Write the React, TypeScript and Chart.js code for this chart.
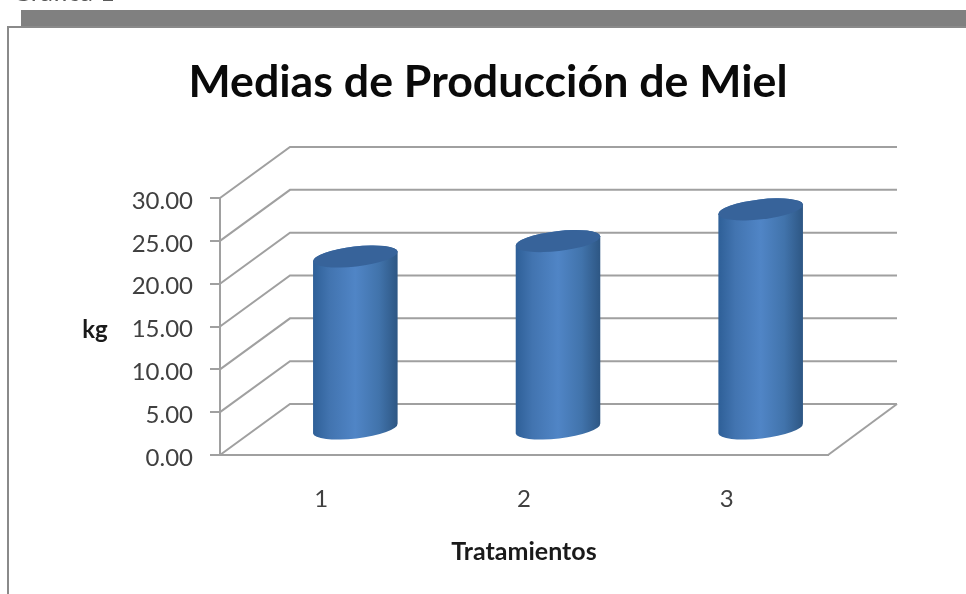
import React, { useEffect, useRef } from "react";
import { Chart, registerables } from "chart.js";

Chart.register(...registerables);

const categories = ["1", "2", "3"];
const values = [20.2, 22.0, 25.7];
const chartTitle = "Medias de Producción de Miel";
const xTitle = "Tratamientos";
const yTitle = "kg";
const cutOffCaption = "Gráfica 1";

const FONT = "Lato, Carlito, sans-serif";
const GRID = "#a0a0a0";
const DEPTH_X = 70;
const DEPTH_Y = -51;

const depthPlugin = {
  id: "depthPlugin",
  beforeDraw(chart: any) {
    const c = chart.ctx;
    c.save();
    c.fillStyle = "#ffffff";
    c.fillRect(0, 0, chart.width, chart.height);
    c.fillStyle = "#5a5a5a";
    c.font = `26px ${FONT}`;
    c.textBaseline = "alphabetic";
    c.fillText(cutOffCaption, 12, 1);
    c.fillStyle = "#808080";
    c.fillRect(21, 10, chart.width, 16);
    c.fillStyle = "#8a8a8a";
    c.fillRect(7, 26, chart.width, 2);
    c.fillRect(7, 26, 2, chart.height);
    c.restore();
  },
  beforeDatasetsDraw(chart: any) {
    const c = chart.ctx;
    const { left, right, bottom } = chart.chartArea;
    const y = chart.scales.y;
    c.save();
    c.strokeStyle = GRID;
    c.lineWidth = 2;
    y.ticks.forEach((t: any) => {
      const py = y.getPixelForValue(t.value);
      c.beginPath();
      c.moveTo(left, py);
      c.lineTo(left + DEPTH_X, py + DEPTH_Y);
      c.lineTo(right + DEPTH_X - 1, py + DEPTH_Y);
      c.stroke();
    });
    c.beginPath();
    c.moveTo(right, bottom);
    c.lineTo(right + DEPTH_X - 1, bottom + DEPTH_Y);
    c.stroke();
    c.restore();
  },
  afterDatasetsDraw(chart: any) {
    const c = chart.ctx;
    const meta = chart.getDatasetMeta(0);
    const tilt = 0.115;
    const ry = 10;
    c.save();
    meta.data.forEach((bar: any) => {
      const rx = bar.width / 2;
      const cx = bar.x + DEPTH_X / 2 - 1;
      const top = bar.y + DEPTH_Y / 2;
      const base = bar.base + DEPTH_Y / 2;
      const g = c.createLinearGradient(cx - rx, 0, cx + rx, 0);
      g.addColorStop(0, "#2e5f97");
      g.addColorStop(0.2, "#4274b0");
      g.addColorStop(0.5, "#5085c6");
      g.addColorStop(0.78, "#4173ab");
      g.addColorStop(1, "#2d5683");
      c.fillStyle = g;
      c.beginPath();
      c.ellipse(cx, top, rx, ry, -tilt, Math.PI, 0, false);
      c.ellipse(cx, base, rx, ry, -tilt, 0, Math.PI, false);
      c.closePath();
      c.fill();
      c.fillStyle = "#37639a";
      c.beginPath();
      c.ellipse(cx, top, rx, ry, -tilt, 0, Math.PI * 2);
      c.fill();
    });
    c.restore();
  },
  afterDraw(chart: any) {
    const c = chart.ctx;
    c.save();
    c.fillStyle = "#1a1a1a";
    c.font = `bold 24px ${FONT}`;
    c.textAlign = "center";
    c.textBaseline = "middle";
    c.fillText(yTitle, 95, 330);
    c.restore();
  },
};

export default function App() {
  const ref = useRef<HTMLCanvasElement>(null);
  useEffect(() => {
    const chart = new Chart(ref.current as HTMLCanvasElement, {
      type: "bar",
      data: {
        labels: categories,
        datasets: [
          {
            data: values,
            backgroundColor: "rgba(0,0,0,0)",
            borderWidth: 0,
            barPercentage: 0.42,
            categoryPercentage: 1,
          },
        ],
      },
      plugins: [depthPlugin],
      options: {
        animation: false,
        responsive: false,
        devicePixelRatio: 1,
        layout: { padding: 0 },
        plugins: {
          legend: { display: false },
          tooltip: { enabled: false },
          title: {
            display: true,
            text: chartTitle,
            color: "#0a0a0a",
            font: { family: FONT, size: 44.7, weight: "bold", lineHeight: 1.2 },
            padding: { top: 56, bottom: 88.4 },
          },
        },
        scales: {
          x: {
            afterFit: (s: any) => {
              s.height = 139;
            },
            grid: { display: false },
            border: { display: true, color: GRID, width: 2 },
            ticks: {
              color: "#404040",
              font: { family: FONT, size: 24 },
              padding: 22,
            },
            title: {
              display: true,
              text: xTitle,
              color: "#1a1a1a",
              font: { family: FONT, size: 25, weight: "bold", lineHeight: 1.2 },
              padding: { top: 0, bottom: 27 },
            },
          },
          y: {
            min: 0,
            max: 30,
            afterFit: (s: any) => {
              s.width = 220;
            },
            grid: {
              drawOnChartArea: false,
              drawTicks: true,
              tickLength: 10,
              color: GRID,
              lineWidth: 2,
            },
            border: { display: true, color: GRID, width: 2 },
            ticks: {
              stepSize: 5,
              color: "#404040",
              font: { family: FONT, size: 24 },
              padding: 17,
              labelOffset: 3,
              callback: (v: any) => Number(v).toFixed(2),
            },
          },
          depthSpace: {
            position: "right",
            min: 0,
            max: 30,
            afterFit: (s: any) => {
              s.width = 148;
            },
            grid: { display: false },
            border: { display: false },
            ticks: { display: false },
          },
        },
      },
    } as any);
    return () => chart.destroy();
  }, []);
  return (
    <div style={{ position: "fixed", inset: 0, overflow: "hidden", background: "#fff" }}>
      <canvas ref={ref} width={976} height={594} style={{ display: "block" }} />
    </div>
  );
}
